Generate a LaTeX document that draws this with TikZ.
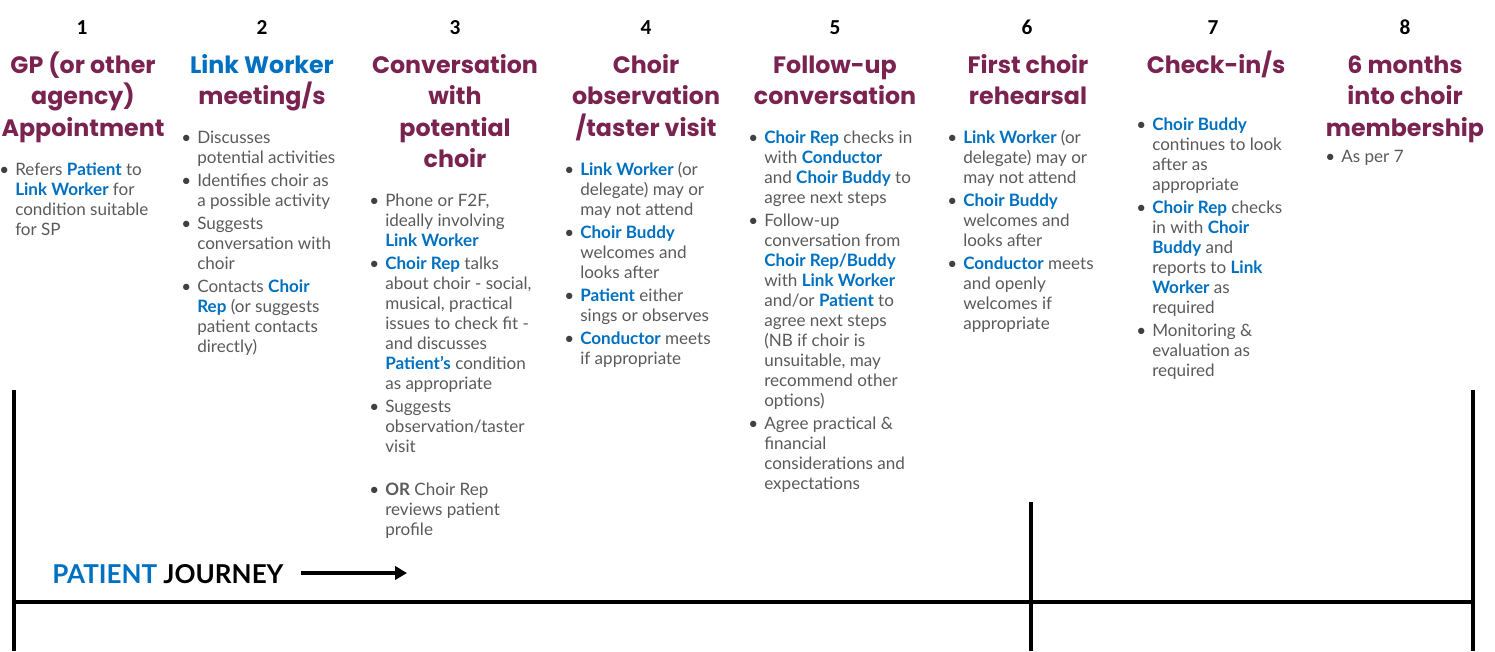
\documentclass[tikz,border=0pt]{standalone}
\usepackage{fontspec}
\usepackage{tikz}
\usepackage{xcolor}
\usetikzlibrary{arrows.meta}
\setmainfont{Lato}
\newfontfamily\headfont{Poppins}
\newfontfamily\numfont{Carlito}

\definecolor{stagemaroon}{HTML}{7A2350}
\definecolor{roleblue}{HTML}{0070C0}
\definecolor{bodygray}{HTML}{5A5A5A}

\newcommand{\role}[1]{\textbf{\textcolor{roleblue}{#1}}}
\newcommand{\bul}{\llap{\textcolor{black!75}{\textbullet}\hspace{4.5pt}}}
\newcommand{\bodystrut}{\rule{0pt}{12pt}}
\newcommand{\headstrut}{\rule{0pt}{18pt}}

\tikzset{
  stepnum/.style={anchor=base,inner sep=0.75pt,font=\numfont\bfseries\fontsize{16}{18}\selectfont},
  stagehead/.style={anchor=north,inner sep=0pt,align=center,text=stagemaroon,font=\headfont\bfseries\fontsize{17.8}{23.6}\selectfont},
  stagebody/.style={anchor=north west,inner sep=0pt,align=left,text=bodygray,font=\fontsize{12.8}{15}\selectfont},
  frameline/.style={line width=2.6pt}
}

\begin{document}
\begin{tikzpicture}[x=0.75pt,y=0.75pt,yscale=-1,xscale=1]
    \useasboundingbox (0,0) rectangle (1495,651);

    % Step numbers
    \node[stepnum] (n1) at (82,34) {1};
    \node[stepnum] (n2) at (262,34) {2};
    \node[stepnum] (n3) at (455,34) {3};
    \node[stepnum] (n4) at (646,34) {4};
    \node[stepnum] (n5) at (835,34) {5};
    \node[stepnum] (n6) at (1027,34) {6};
    \node[stepnum] (n7) at (1213,34) {7};
    \node[stepnum] (n8) at (1405,34) {8};

    % Stage headings
    \node[stagehead] (h1) at (83,49) {\headstrut GP (or other\\agency)\\Appointment};
    \node[stagehead] (h2) at (262,49) {\headstrut\textcolor{roleblue}{Link Worker}\\meeting/s};
    \node[stagehead] (h3) at (455,49) {\headstrut Conversation\\with\\potential\\choir};
    \node[stagehead] (h4) at (646,49) {\headstrut Choir\\observation\\/taster visit};
    \node[stagehead] (h5) at (835,49) {\headstrut Follow-up\\conversation};
    \node[stagehead] (h6) at (1028,49) {\headstrut First choir\\rehearsal};
    \node[stagehead] (h7) at (1216,49) {\headstrut Check-in/s};
    \node[stagehead] (h8) at (1405,49) {\headstrut 6 months\\into choir\\membership};

    % Stage bullets
    \node[stagebody] (b1) at (15,159) {\bodystrut\bul Refers \role{Patient} to\\\role{Link Worker} for\\condition suitable\\for SP};
    \node[stagebody] (b2) at (197,127) {\bodystrut\bul Discusses\\potential activities\\[2.25pt]
      \bul Identifies choir as\\a possible activity\\[2.25pt]
      \bul Suggests\\conversation with\\choir\\[2.25pt]
      \bul Contacts \role{Choir}\\\role{Rep} (or suggests\\patient contacts\\directly)};
    \node[stagebody] (b3) at (385,190) {\bodystrut\bul Phone or F2F,\\ideally involving\\\role{Link Worker}\\[2.25pt]
      \bul \role{Choir Rep} talks\\about choir - social,\\musical, practical\\issues to check fit -\\and discusses\\\role{Patient's} condition\\as appropriate\\[2.25pt]
      \bul Suggests\\observation/taster\\visit\\[17.25pt]
      \bul \textbf{OR} Choir Rep\\reviews patient\\profile};
    \node[stagebody] (b4) at (580,159) {\bodystrut\bul \role{Link Worker} (or\\delegate) may or\\may not attend\\[2.25pt]
      \bul \role{Choir Buddy}\\welcomes and\\looks after\\[2.25pt]
      \bul \role{Patient} either\\sings or observes\\[2.25pt]
      \bul \role{Conductor} meets\\if appropriate};
    \node[stagebody] (b5) at (764,127) {\bodystrut\bul \role{Choir Rep} checks in\\with \role{Conductor}\\and \role{Choir Buddy} to\\agree next steps\\[2.25pt]
      \bul Follow-up\\conversation from\\\role{Choir Rep/Buddy}\\with \role{Link Worker}\\and/or \role{Patient} to\\agree next steps\\(NB if choir is\\unsuitable, may\\recommend other\\options)\\[2.25pt]
      \bul Agree practical \&\\financial\\considerations and\\expectations};
    \node[stagebody] (b6) at (963,127) {\bodystrut\bul \role{Link Worker} (or\\delegate) may or\\may not attend\\[2.25pt]
      \bul \role{Choir Buddy}\\welcomes and\\looks after\\[2.25pt]
      \bul \role{Conductor} meets\\and openly\\welcomes if\\appropriate};
    \node[stagebody] (b7) at (1152,114) {\bodystrut\bul \role{Choir Buddy}\\continues to look\\after as\\appropriate\\[2.25pt]
      \bul \role{Choir Rep} checks\\in with \role{Choir}\\\role{Buddy} and\\reports to \role{Link}\\\role{Worker} as\\required\\[2.25pt]
      \bul Monitoring \&\\evaluation as\\required};
    \node[stagebody] (b8) at (1341,146) {\bodystrut\bul As per 7};

    % Journey label and arrow
    \node[anchor=base west,inner sep=0pt,font=\bfseries\fontsize{19.5}{22}\selectfont] (journey) at (52,583) {\textcolor{roleblue}{PATIENT} JOURNEY};
    \coordinate (arrowstart) at (301,573);
    \coordinate (arrowend) at (407,573);
    \draw[line width=3pt,-{Triangle[length=9pt,width=10pt]}] (arrowstart) -- (arrowend);

    % Frame lines
    \coordinate (lefttop) at (14,390);
    \coordinate (leftbot) at (14,651);
    \coordinate (righttop) at (1473,390);
    \coordinate (rightbot) at (1473,651);
    \coordinate (midtop) at (1031,502);
    \coordinate (midbot) at (1031,651);
    \coordinate (baseleft) at (14,602);
    \coordinate (baseright) at (1473,602);
    \draw[frameline] (lefttop) -- (leftbot);
    \draw[frameline] (righttop) -- (rightbot);
    \draw[frameline] (midtop) -- (midbot);
    \draw[frameline] (baseleft) -- (baseright);

\end{tikzpicture}
\end{document}
